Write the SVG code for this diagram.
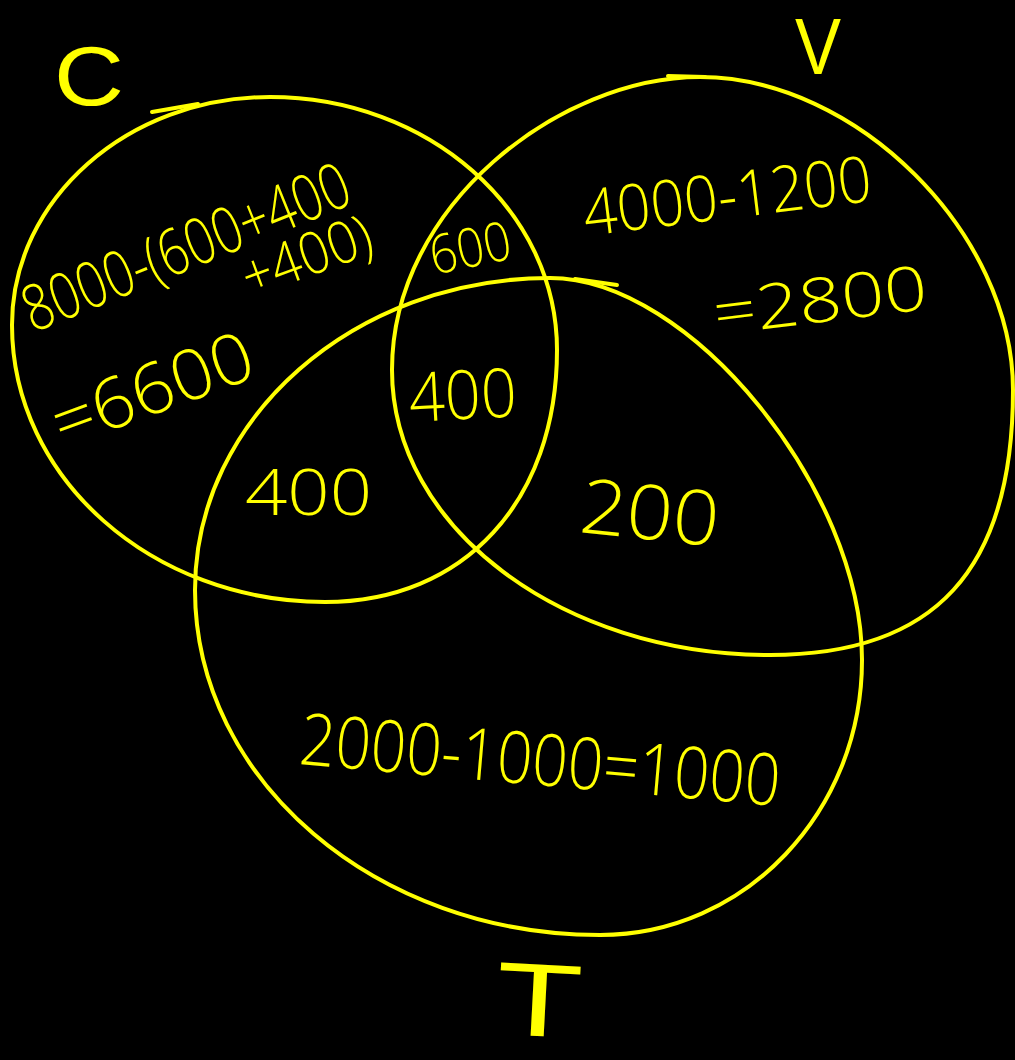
<svg xmlns="http://www.w3.org/2000/svg" width="1015" height="1060" viewBox="0 0 1015 1060">
  <style>
    .ring { fill: none; stroke: #ffff00; stroke-width: 4; stroke-linecap: round; stroke-linejoin: round; }
    .hand { fill: #ffff00; font-family: "Open Sans", "Liberation Sans", sans-serif; font-weight: 300; }
    .lbl { fill: #ffff00; font-family: "Liberation Sans", Arial, sans-serif; font-weight: normal; }
  </style>
  <rect x="0" y="0" width="1015" height="1060" fill="#000000"/>

  <g id="set-C">
    <path class="ring" d="M270,97 C428,97 557,210 557,350 C557,501 464,602 325,602 C152,602 12,478 12,325 C12,199 128,97 270,97 Z"/>
    <path class="ring" d="M152,112 L198,104"/>
    <text class="lbl" x="54" y="105" font-size="84" textLength="70" lengthAdjust="spacingAndGlyphs">C</text>
  </g>

  <g id="set-V">
    <path class="ring" d="M700,77 C856,77 1013,233 1013,390 C1013,570 935,655 770,655 C561,655 392,527 392,370 C392,205 560,77 700,77 Z"/>
    <path class="ring" d="M668,76 L705,77"/>
    <text class="lbl" x="795" y="74" font-size="80" textLength="46" lengthAdjust="spacingAndGlyphs">V</text>
  </g>

  <g id="set-T">
    <path class="ring" d="M550,278 C690,278 862,490 862,660 C862,812 745,935 600,935 C376,935 195,780 195,590 C195,418 354,278 550,278 Z"/>
    <path class="ring" d="M575,279 L617,285"/>
    <text class="lbl" x="496" y="1036" font-size="104" textLength="86" lengthAdjust="spacingAndGlyphs" transform="rotate(3 540 1000)">T</text>
  </g>

  <g id="regions">
    <text class="hand" x="33" y="333" font-size="64" textLength="348" lengthAdjust="spacingAndGlyphs" transform="rotate(-22 33 333)">8000-(600+400</text>
    <text class="hand" x="250" y="298" font-size="58" textLength="135" lengthAdjust="spacingAndGlyphs" transform="rotate(-20 250 298)">+400)</text>
    <text class="hand" x="62" y="448" font-size="70" textLength="210" lengthAdjust="spacingAndGlyphs" transform="rotate(-20 62 448)">=6600</text>
    <text class="hand" x="434" y="275" font-size="54" textLength="82" lengthAdjust="spacingAndGlyphs" transform="rotate(-12 434 275)">600</text>
    <text class="hand" x="586" y="236" font-size="64" textLength="290" lengthAdjust="spacingAndGlyphs" transform="rotate(-7 586 236)">4000-1200</text>
    <text class="hand" x="716" y="335" font-size="62" textLength="215" lengthAdjust="spacingAndGlyphs" transform="rotate(-7 716 335)">=2800</text>
    <text class="hand" x="410" y="422" font-size="68" textLength="108" lengthAdjust="spacingAndGlyphs" transform="rotate(-3 410 422)">400</text>
    <text class="hand" x="245" y="515" font-size="64" textLength="127" lengthAdjust="spacingAndGlyphs">400</text>
    <text class="hand" x="578" y="532" font-size="76" textLength="139" lengthAdjust="spacingAndGlyphs" transform="rotate(6 578 532)">200</text>
    <text class="hand" x="298" y="764" font-size="72" textLength="482" lengthAdjust="spacingAndGlyphs" transform="rotate(5 298 764)">2000-1000=1000</text>
  </g>
</svg>
